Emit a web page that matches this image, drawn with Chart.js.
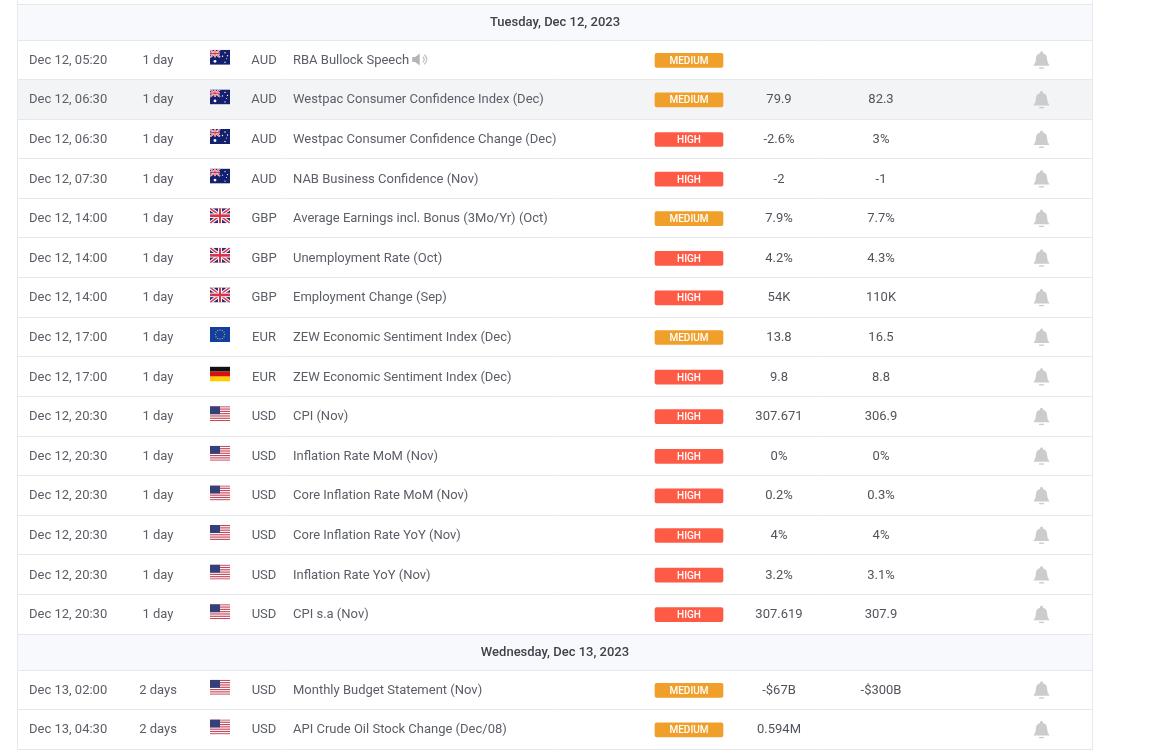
<!DOCTYPE html>
<html>
<head>
<meta charset="utf-8">
<title>Economic calendar</title>
<script src="https://cdn.jsdelivr.net/npm/chart.js@4"></script>
<style>
	html, body { margin: 0; padding: 0; background: #fff; overflow: hidden; }
	canvas { display: block; }
</style>
</head>
<body>
<canvas id="calendar" width="1161" height="750"></canvas>
<script>
'use strict'

const dayHeaders = ['Tuesday, Dec 12, 2023', 'Wednesday, Dec 13, 2023'];
const dayRowCounts = [15, 2];

const times = ['Dec 12, 05:20', 'Dec 12, 06:30', 'Dec 12, 06:30', 'Dec 12, 07:30', 'Dec 12, 14:00', 'Dec 12, 14:00', 'Dec 12, 14:00', 'Dec 12, 17:00', 'Dec 12, 17:00', 'Dec 12, 20:30', 'Dec 12, 20:30', 'Dec 12, 20:30', 'Dec 12, 20:30', 'Dec 12, 20:30', 'Dec 12, 20:30', 'Dec 13, 02:00', 'Dec 13, 04:30'];
const countdowns = ['1 day', '1 day', '1 day', '1 day', '1 day', '1 day', '1 day', '1 day', '1 day', '1 day', '1 day', '1 day', '1 day', '1 day', '1 day', '2 days', '2 days'];
const flags = ['au', 'au', 'au', 'au', 'gb', 'gb', 'gb', 'eu', 'de', 'us', 'us', 'us', 'us', 'us', 'us', 'us', 'us'];
const currencies = ['AUD', 'AUD', 'AUD', 'AUD', 'GBP', 'GBP', 'GBP', 'EUR', 'EUR', 'USD', 'USD', 'USD', 'USD', 'USD', 'USD', 'USD', 'USD'];
const events = ['RBA Bullock Speech', 'Westpac Consumer Confidence Index (Dec)', 'Westpac Consumer Confidence Change (Dec)', 'NAB Business Confidence (Nov)', 'Average Earnings incl. Bonus (3Mo/Yr) (Oct)', 'Unemployment Rate (Oct)', 'Employment Change (Sep)', 'ZEW Economic Sentiment Index (Dec)', 'ZEW Economic Sentiment Index (Dec)', 'CPI (Nov)', 'Inflation Rate MoM (Nov)', 'Core Inflation Rate MoM (Nov)', 'Core Inflation Rate YoY (Nov)', 'Inflation Rate YoY (Nov)', 'CPI s.a (Nov)', 'Monthly Budget Statement (Nov)', 'API Crude Oil Stock Change (Dec/08)'];
const impacts = ['MEDIUM', 'MEDIUM', 'HIGH', 'HIGH', 'MEDIUM', 'HIGH', 'HIGH', 'MEDIUM', 'HIGH', 'HIGH', 'HIGH', 'HIGH', 'HIGH', 'HIGH', 'HIGH', 'MEDIUM', 'MEDIUM'];
const actuals = ['', '79.9', '-2.6%', '-2', '7.9%', '4.2%', '54K', '13.8', '9.8', '307.671', '0%', '0.2%', '4%', '3.2%', '307.619', '-$67B', '0.594M'];
const forecasts = ['', '82.3', '3%', '-1', '7.7%', '4.3%', '110K', '16.5', '8.8', '306.9', '0%', '0.3%', '4%', '3.1%', '307.9', '-$300B', ''];
const highlightedRows = [1];
const speechRows = [0];

// layout of the table, in the units of the two scales
const TABLE_LEFT = 17.5;
const TABLE_RIGHT = 1092.5;
const TABLE_TOP = 4;
const HEADER_SPAN = 36;
const ROW_SPAN = 39.6;
const BADGE_FROM = 655;
const BADGE_TO = 723;
const COL_TIME = 29;
const COL_COUNTDOWN = 158;
const COL_FLAG = 210;
const COL_CURRENCY = 264;
const COL_EVENT = 293;
const COL_ACTUAL = 779;
const COL_FORECAST = 881;
const COL_BELL = 1041.5;

const colors = {
	medium: '#EF9F2A',
	high: '#FE5B46',
	headerBand: '#F8F9FD',
	hoverBand: '#F3F4F6',
	line: '#E6E8EC',
	text: '#5A5E66',
	value: '#50545B',
	header: '#3E4249',
	icon: '#CBCCCE',
};

// walk the groups once to get the centre of each header and row on the y scale
const headerCenters = [];
const rowCenters = [];
const rowEdges = [TABLE_TOP];
let cursor = TABLE_TOP;
dayHeaders.forEach((header, i) => {
	headerCenters.push(cursor + HEADER_SPAN / 2);
	cursor += HEADER_SPAN;
	rowEdges.push(cursor);
	for (let r = 0; r < dayRowCounts[i]; r++) {
		rowCenters.push(cursor + ROW_SPAN / 2);
		cursor += ROW_SPAN;
		rowEdges.push(cursor);
	}
});

const badgeBars = (level) => impacts
	.map((impact, i) => ({ impact, y: rowCenters[i] + 0.5 }))
	.filter(row => row.impact === level)
	.map(row => ({ x: [BADGE_FROM, BADGE_TO], y: row.y }));

function drawFlag(ctx, code, x, y) {
	const w = 20, h = 15;
	ctx.save();
	ctx.beginPath();
	ctx.rect(x, y, w, h);
	ctx.clip();
	if (code === 'de') {
		ctx.fillStyle = '#111';
		ctx.fillRect(x, y, w, 5);
		ctx.fillStyle = '#D5100F';
		ctx.fillRect(x, y + 5, w, 5);
		ctx.fillStyle = '#FFCE00';
		ctx.fillRect(x, y + 10, w, 5);
	} else if (code === 'eu') {
		ctx.fillStyle = '#123F9F';
		ctx.fillRect(x, y, w, h);
		ctx.fillStyle = '#C9C25A';
		for (let a = 0; a < 12; a++) {
			ctx.fillRect(x + 10 + Math.cos(a * Math.PI / 6) * 4.6 - 0.5, y + 7.5 + Math.sin(a * Math.PI / 6) * 4.6 - 0.5, 1, 1);
		}
	} else if (code === 'us') {
		ctx.fillStyle = '#fff';
		ctx.fillRect(x, y, w, h);
		ctx.fillStyle = '#C4475B';
		for (let s = 0; s < 7; s++) {
			ctx.fillRect(x, y + s * 2.3, w, 1.15);
		}
		ctx.fillStyle = '#33407A';
		ctx.fillRect(x, y, 10, 8);
	} else {
		// au and gb share the union jack, full size for gb and as a canton for au
		const cw = code === 'au' ? 10 : w;
		const ch = code === 'au' ? 7.5 : h;
		ctx.fillStyle = code === 'au' ? '#14206E' : '#2B2F70';
		ctx.fillRect(x, y, w, h);
		const cross = (color, width) => {
			ctx.strokeStyle = color;
			ctx.lineWidth = width;
			ctx.beginPath();
			ctx.moveTo(x, y);
			ctx.lineTo(x + cw, y + ch);
			ctx.moveTo(x + cw, y);
			ctx.lineTo(x, y + ch);
			ctx.stroke();
		};
		cross('#fff', ch * 0.24);
		cross('#D6354F', ch * 0.1);
		ctx.fillStyle = '#fff';
		ctx.fillRect(x + cw * 0.4, y, cw * 0.2, ch);
		ctx.fillRect(x, y + ch * 0.35, cw, ch * 0.3);
		ctx.fillStyle = '#D6354F';
		ctx.fillRect(x + cw * 0.45, y, cw * 0.1, ch);
		ctx.fillRect(x, y + ch * 0.41, cw, ch * 0.18);
		if (code === 'au') {
			ctx.fillStyle = '#fff';
			[[5, 11.5, 1.4], [15, 3, 0.7], [12.5, 6.5, 0.7], [17.5, 6, 0.7], [15, 12.5, 0.7], [16.5, 9, 0.5]].forEach(star => {
				ctx.beginPath();
				ctx.arc(x + star[0], y + star[1], star[2], 0, Math.PI * 2);
				ctx.fill();
			});
		}
	}
	ctx.restore();
}

function drawBell(ctx, cx, cy) {
	ctx.save();
	ctx.fillStyle = colors.icon;
	ctx.beginPath();
	ctx.moveTo(cx - 8, cy + 5.5);
	ctx.quadraticCurveTo(cx - 5.5, cy + 2.5, cx - 5.5, cy - 2);
	ctx.quadraticCurveTo(cx - 5.5, cy - 6, cx - 1.4, cy - 7);
	ctx.arc(cx, cy - 7.4, 1.5, Math.PI * 0.9, Math.PI * 0.1);
	ctx.quadraticCurveTo(cx + 5.5, cy - 6, cx + 5.5, cy - 2);
	ctx.quadraticCurveTo(cx + 5.5, cy + 2.5, cx + 8, cy + 5.5);
	ctx.closePath();
	ctx.fill();
	ctx.fillRect(cx - 2.4, cy + 7, 4.8, 1.4);
	ctx.restore();
}

function drawSpeaker(ctx, x, cy) {
	ctx.save();
	ctx.fillStyle = '#B4B5B8';
	ctx.strokeStyle = '#BFC0C3';
	ctx.lineWidth = 1.3;
	ctx.beginPath();
	ctx.moveTo(x, cy - 2.5);
	ctx.lineTo(x + 3, cy - 2.5);
	ctx.lineTo(x + 7.5, cy - 6);
	ctx.lineTo(x + 7.5, cy + 6);
	ctx.lineTo(x + 3, cy + 2.5);
	ctx.lineTo(x, cy + 2.5);
	ctx.closePath();
	ctx.fill();
	[3, 5.5].forEach(r => {
		ctx.beginPath();
		ctx.arc(x + 9, cy, r, -Math.PI / 3, Math.PI / 3);
		ctx.stroke();
	});
	ctx.restore();
}

const tableCells = {
	id: 'tableCells',
	afterDatasetsDraw(chart) {
		const { ctx, scales: { x, y } } = chart;
		const put = (text, col, pos, align, font, color) => {
			ctx.textAlign = align;
			ctx.font = font;
			ctx.fillStyle = color;
			ctx.fillText(text, x.getPixelForValue(col), y.getPixelForValue(pos));
		};
		ctx.save();
		ctx.textBaseline = 'middle';
		dayHeaders.forEach((header, i) => {
			put(header, (TABLE_LEFT + TABLE_RIGHT) / 2, headerCenters[i] + 1, 'center', '500 13px Roboto', colors.header);
		});
		times.forEach((time, i) => {
			const pos = rowCenters[i] + 0.7;
			const cellFont = '13px Roboto';
			put(time, COL_TIME, pos, 'left', cellFont, colors.text);
			put(countdowns[i], COL_COUNTDOWN, pos, 'center', cellFont, colors.text);
			put(currencies[i], COL_CURRENCY, pos, 'center', cellFont, colors.text);
			put(events[i], COL_EVENT, pos, 'left', cellFont, colors.text);
			if (speechRows.includes(i)) {
				drawSpeaker(ctx, x.getPixelForValue(COL_EVENT) + ctx.measureText(events[i]).width + 3, y.getPixelForValue(pos - 1));
			}
			put(impacts[i], (BADGE_FROM + BADGE_TO) / 2, pos + 0.8, 'center', '500 10px Roboto', '#fff');
			put(actuals[i], COL_ACTUAL, pos, 'center', cellFont, colors.value);
			put(forecasts[i], COL_FORECAST, pos, 'center', cellFont, colors.value);
			drawFlag(ctx, flags[i], x.getPixelForValue(COL_FLAG), y.getPixelForValue(rowCenters[i] - 10));
			drawBell(ctx, x.getPixelForValue(COL_BELL), y.getPixelForValue(rowCenters[i] + 0.5));
		});
		ctx.restore();
	},
};

// first dataset is painted last, so the badges go before the row bands
const calendar = new Chart(document.getElementById('calendar'), {
	type: 'bar',
	data: {
		datasets: [
			{
				label: 'MEDIUM',
				data: badgeBars('MEDIUM'),
				backgroundColor: colors.medium,
				barThickness: 14,
				borderRadius: 2,
				borderSkipped: false,
				grouped: false,
			},
			{
				label: 'HIGH',
				data: badgeBars('HIGH'),
				backgroundColor: colors.high,
				barThickness: 14,
				borderRadius: 2,
				borderSkipped: false,
				grouped: false,
			},
			{
				label: 'Day',
				data: headerCenters.map(c => ({ x: [TABLE_LEFT, TABLE_RIGHT], y: c })),
				backgroundColor: colors.headerBand,
				barThickness: HEADER_SPAN,
				grouped: false,
			},
			{
				label: 'Hover',
				data: highlightedRows.map(r => ({ x: [TABLE_LEFT, TABLE_RIGHT], y: rowCenters[r] })),
				backgroundColor: colors.hoverBand,
				barThickness: ROW_SPAN,
				grouped: false,
			},
		],
	},
	options: {
		indexAxis: 'y',
		responsive: false,
		animation: false,
		layout: {
			padding: { left: TABLE_LEFT, right: 1161 - TABLE_RIGHT, top: 0, bottom: 0 },
		},
		plugins: {
			legend: { display: false },
			tooltip: { enabled: false },
		},
		scales: {
			x: {
				type: 'linear',
				min: TABLE_LEFT,
				max: TABLE_RIGHT,
				afterBuildTicks: (axis) => { axis.ticks = [{ value: TABLE_LEFT }, { value: TABLE_RIGHT }]; },
				ticks: { display: false },
				border: { display: false },
				grid: { color: colors.line, drawTicks: false, z: 1 },
			},
			y: {
				type: 'linear',
				reverse: true,
				offset: false,
				min: 0,
				max: 750,
				afterBuildTicks: (axis) => { axis.ticks = rowEdges.map(value => ({ value })); },
				ticks: { display: false },
				border: { display: false },
				grid: { color: colors.line, drawTicks: false, offset: false, z: 1 },
			},
		},
	},
	plugins: [tableCells],
});
</script>
</body>
</html>
